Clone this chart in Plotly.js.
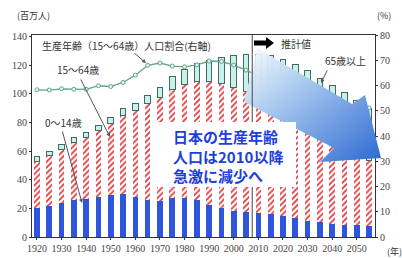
<!DOCTYPE html>
<html><head><meta charset="utf-8">
<script src="https://cdn.plot.ly/plotly-3.0.1.min.js"></script>
<style>html,body{margin:0;padding:0;background:#fff}#c{width:402px;height:258px}</style>
</head><body><div id="c"></div>
<script>
// ---- data (millions / %) ----
const years = [1920,1925,1930,1935,1940,1945,1950,1955,1960,1965,1970,1975,1980,1985,1990,1995,2000,2005,2010,2015,2020,2025,2030,2035,2040,2045,2050,2055];
const age0to14 = [20.4,21.9,23.6,25.5,26.4,27.6,29.4,29.8,28.1,25.5,25.2,27.2,27.5,26.0,22.5,20.0,18.5,17.6,16.8,15.8,14.6,13.2,11.5,10.5,9.3,8.6,8.2,7.5];
const age15to64 = [32.6,34.8,37.8,40.5,43.3,46.8,49.7,55.2,60.0,67.4,72.1,75.8,78.8,82.5,86.0,87.2,86.2,84.1,81.7,76.8,73.6,70.8,68.0,62.9,57.9,53.9,49.3,45.9];
const age65plus = [2.9,3.0,3.1,3.2,3.5,3.7,4.1,4.8,5.4,6.2,7.3,8.9,10.6,12.5,14.9,18.3,22.0,25.7,29.2,33.8,36.0,36.4,36.7,37.3,38.5,38.4,37.6,36.5];
const workingShare = [58.3,58.2,58.7,58.5,58.5,59.9,59.6,61.2,64.1,68.0,68.9,67.7,67.4,68.2,69.7,69.5,68.1,66.1,63.8,60.7,59.2,58.7,58.3,56.8,54.2,53.1,51.8,51.1];
const xTickVals = [1920,1930,1940,1950,1960,1970,1980,1990,2000,2010,2020,2030,2040,2050];
const xTickText = ["1920","1930","1940","1950","1960","1970","1980","1990","2000","2010","2020","2030","2040","2050"];
const leftTicks = [0,20,40,60,80,100,120,140];
const rightTicks = [0,10,20,30,40,50,60,70,80];

// ---- pixel helpers for decorations ----
const L=32,R=375,T=35,B=237;
const px = x => (x-L)/(R-L);
const py = y => (B-y)/(B-T);
function pathPx(pts){return 'M'+pts.map(p=>px(p[0]).toFixed(4)+','+py(p[1]).toFixed(4)).join(' L')+' Z';}

const bw = 2.3;
const tickFont = {family:'Liberation Serif, DejaVu Serif, serif', size:10, color:'#444'};
const jp = 'Noto Sans CJK JP, sans-serif';

const traces = [
  {type:'bar', x:years, y:age0to14, width:bw, marker:{color:'#2f55dc', line:{width:0}}, hoverinfo:'none'},
  {type:'bar', x:years, y:age15to64, width:bw, marker:{color:'#ffffff', line:{width:0},
     pattern:{shape:'/', fgcolor:'#e0393c', bgcolor:'#ffffff', size:4, solidity:0.45}}, hoverinfo:'none'},
  {type:'bar', x:years, y:age65plus, width:bw, marker:{color:'#c9f1ea', line:{color:'#3d6b66', width:1}}, hoverinfo:'none'},
  {type:'scatter', mode:'lines+markers', x:years, y:workingShare, yaxis:'y2',
     line:{color:'#5fa58e', width:1.3}, marker:{size:4, color:'#e8f5ef', line:{color:'#5fa58e', width:1}}, hoverinfo:'none'}
];

const svg = `<svg xmlns="http://www.w3.org/2000/svg" width="402" height="258" viewBox="0 0 402 258">
<defs><linearGradient id="g" x1="0" y1="0" x2="1" y2="1">
<stop offset="0" stop-color="#ffffff" stop-opacity="0.9"/>
<stop offset="0.3" stop-color="#b7d3f2"/>
<stop offset="1" stop-color="#2c6ad2"/>
</linearGradient></defs>
<polygon points="257,48 352,104 365,95 381,158 320,162 334,148 244,102" fill="url(#g)"/>
</svg>`;

function txt(x, y, t, size, extra){
  return Object.assign({xref:'paper', yref:'paper', x:px(x), y:py(y), xanchor:'left', yanchor:'middle',
    text:t, showarrow:false, font:{family:jp, size:size, color:'#333'}}, extra||{});
}
function arr(x, y, ax, ay){
  return {xref:'paper', yref:'paper', x:px(x), y:py(y), ax:ax, ay:ay, text:'', showarrow:true,
    arrowhead:2, arrowsize:0.8, arrowwidth:1, arrowcolor:'#555'};
}
const msgFont = {family:jp, size:15, color:'#1e40d8', weight:'bold'};

const layout = {
  width:402, height:258,
  margin:{l:L, r:402-R, t:T, b:258-B},
  paper_bgcolor:'#fff', plot_bgcolor:'#fff',
  barmode:'stack', showlegend:false,
  xaxis:{range:[1918,2057.4], tickvals:xTickVals, ticktext:xTickText, tickfont:tickFont,
     showline:true, linecolor:'#333', linewidth:1, mirror:true, ticks:'outside', ticklen:2, tickcolor:'#333',
     showgrid:false, zeroline:false, fixedrange:true},
  yaxis:{range:[0,141], tickvals:leftTicks, tickfont:tickFont, showline:true, linecolor:'#333', linewidth:1,
     ticks:'outside', ticklen:2, tickcolor:'#333', showgrid:false, zeroline:false},
  yaxis2:{overlaying:'y', side:'right', range:[0,80], tickvals:rightTicks, tickfont:tickFont, showline:true,
     linecolor:'#333', linewidth:1, ticks:'outside', ticklen:2, tickcolor:'#333', showgrid:false, zeroline:false},
  shapes:[
    {type:'line', xref:'x', yref:'paper', x0:2007.5, x1:2007.5, y0:0, y1:1, line:{color:'#444', width:1}},
    {type:'rect', xref:'paper', yref:'paper', x0:px(157), x1:px(296), y0:py(187), y1:py(122), fillcolor:'#ffffff', line:{width:0}, layer:'above'},
    {type:'path', xref:'paper', yref:'paper', layer:'above', fillcolor:'#000', line:{width:0},
      path:pathPx([[254,40.5],[266,40.5],[266,37],[274,43],[266,49],[266,45.5],[254,45.5]])}
  ],
  images:[{source:'data:image/svg+xml;charset=utf-8,'+encodeURIComponent(svg), xref:'paper', yref:'paper',
     x:px(0), y:py(0), sizex:402/(R-L), sizey:258/(B-T), xanchor:'left', yanchor:'top', sizing:'stretch', layer:'above'}],
  annotations:[
    txt(33, 16, '(百万人)', 9, {xanchor:'center'}),
    txt(384, 16, '(%)', 9, {xanchor:'center'}),
    txt(394, 251, '(年)', 9, {xanchor:'center'}),
    txt(40, 45, '生産年齢（15～64歳）人口割合(右軸)', 10),
    txt(55, 69, '15～64歳', 10),
    txt(43, 122, '0～14歳', 10),
    txt(323, 60, '65歳以上', 10),
    txt(279, 43, '推計値', 10),
    arr(146, 63, -13, -11),
    arr(110, 137, -30, -59),
    arr(82, 203, -20, -73),
    arr(321, 83, 7, -14),
    txt(172, 156, '日本の生産年齢<br>人口は2010以降<br>急激に減少へ', 15, {font:msgFont, align:'left', borderpad:0})
  ]
};
Plotly.newPlot('c', traces, layout, {staticPlot:true, displayModeBar:false});
</script></body></html>
